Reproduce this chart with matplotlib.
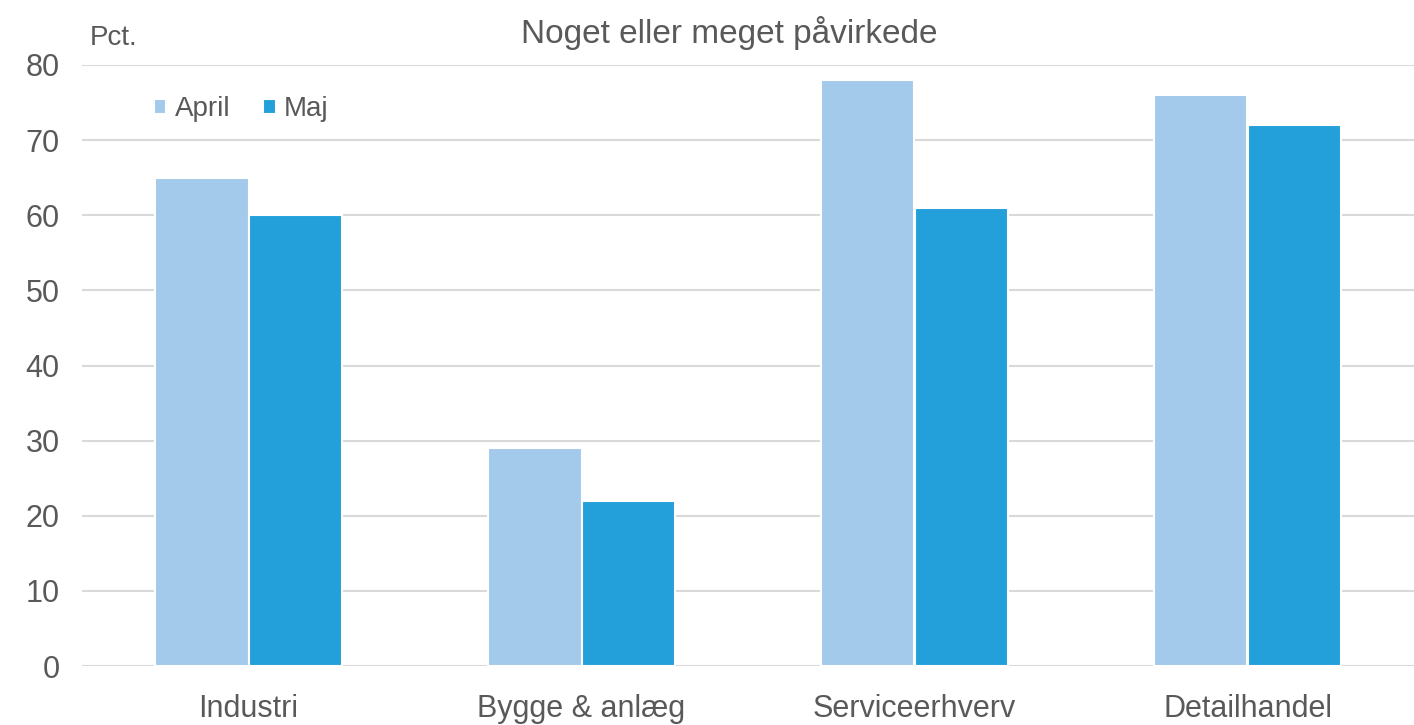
import numpy as np
import matplotlib.pyplot as plt
from matplotlib import font_manager

categories = ["Industri", "Bygge & anlæg", "Serviceerhverv", "Detailhandel"]
april = [65, 29, 78, 76]
maj = [60, 22, 61, 72]
y_ticks = [0, 10, 20, 30, 40, 50, 60, 70, 80]

names = {f.name for f in font_manager.fontManager.ttflist}
family = "Liberation Sans Narrow" if "Liberation Sans Narrow" in names else "Liberation Sans"
plt.rcParams["font.family"] = [family, "DejaVu Sans"]

fig = plt.figure(figsize=(14.14, 7.25), dpi=100)
ax = fig.add_axes([82 / 1414, 1 - 666 / 725, 1 - 82 / 1414, (666 - 65) / 725])

x = np.arange(len(categories))
width = 0.28
ax.bar(x - 0.14, april, width, color="#A3C9EB", edgecolor="white", linewidth=1.5,
       label="April", zorder=3)
ax.bar(x + 0.14, maj, width, color="#23A0DA", edgecolor="white", linewidth=1.5,
       label="Maj", zorder=3)

ax.set_xlim(-0.5, 3.5)
ax.set_ylim(0, 80)
ax.set_yticks(y_ticks)
ax.set_xticks(x)
ax.set_xticklabels(categories)
ax.grid(axis="y", color="#D9D9D9", linewidth=1.5, zorder=0)
for s in ax.spines.values():
    s.set_visible(False)
ax.tick_params(axis="both", length=0, labelsize=22, labelcolor="#595959")
ax.tick_params(axis="y", pad=16)
ax.tick_params(axis="x", pad=20)

fig.text(90 / 1414, 1 - 38 / 725, "Pct.", fontsize=20, color="#595959", va="center")
fig.text(729 / 1414, 1 - 33 / 725, "Noget eller meget påvirkede", fontsize=24,
         color="#595959", ha="center", va="center")

ax.legend(loc="upper left", bbox_to_anchor=(0.035, 0.99), frameon=False, ncol=2,
          fontsize=20, labelcolor="#595959", handlelength=0.45, handleheight=0.45,
          handletextpad=0.3, columnspacing=1.2)

fig.savefig("out.png", dpi=100)
